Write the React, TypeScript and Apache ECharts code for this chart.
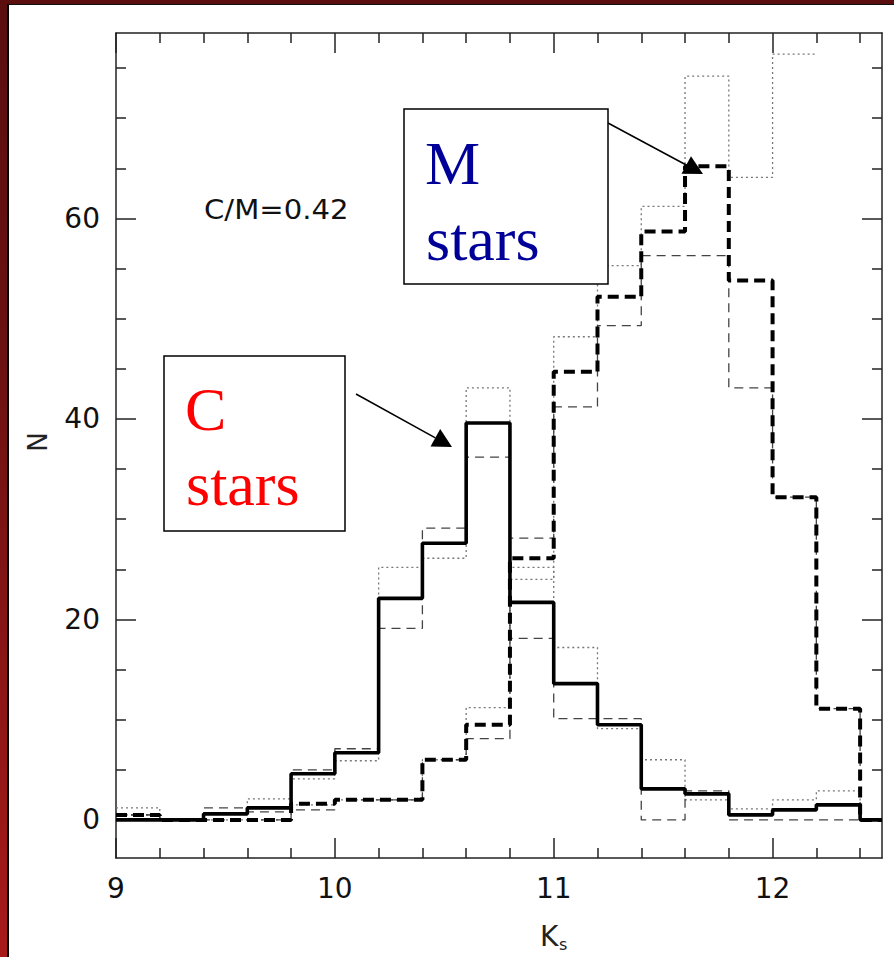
import React, { useEffect, useRef } from "react";
import * as echarts from "echarts";

// Histogram bin edges (K_s magnitude)
const binEdges = [9.0, 9.2, 9.4, 9.6, 9.8, 10.0, 10.2, 10.4, 10.6, 10.8, 11.0, 11.2, 11.4, 11.6, 11.8, 12.0, 12.2, 12.4, 12.5];
// Counts per bin
const cStars = [0, 0, 0.6, 1.2, 4.6, 6.7, 22.1, 27.6, 39.6, 21.7, 13.6, 9.5, 3.1, 2.6, 0.5, 1.0, 1.5, 0];
const mStars = [0.5, 0, 0, 0, 1.6, 2.0, 2.0, 6.0, 9.5, 26.1, 44.7, 52.2, 58.7, 65.2, 53.8, 32.2, 11.1, 0];
const cStarsDashed = [0.5, 0, 1.2, 0.8, 5.0, 7.1, 19.1, 29.1, 36.2, 18.1, 10.1, 10.1, 0, 2.9, 0, 0, 0, 0];
const cStarsDotted = [1.2, 0, 0.6, 2.1, 4.1, 5.9, 25.2, 26.1, 43.1, 25.2, 17.2, 9.1, 6.0, 2.0, 1.1, 2.0, 2.9, 0];
const mStarsDashed = [0.5, 0, 0, 0, 1.0, 2.0, 2.0, 6.0, 8.1, 28.1, 41.2, 49.3, 56.3, 56.3, 43.1, 32.2, 11.1, 0];
const mStarsDotted: (number | null)[] = [0.5, 0, 0, 0, 1.5, 2.0, 2.0, 6.0, 11.2, 24.0, 48.2, 55.3, 61.2, 74.2, 64.1, 76.4, null, null];

// Axes
const xMajorTicks = [9, 10, 11, 12];
const xMinorTicks = [9.2, 9.4, 9.6, 9.8, 10.2, 10.4, 10.6, 10.8, 11.2, 11.4, 11.6, 11.8, 12.2, 12.4];
const yMajorTicks = [0, 20, 40, 60];
const yMinorTicks = [5, 10, 15, 25, 30, 35, 45, 50, 55, 65, 70, 75];
const xRange = [9, 12.5];
const yRange = [-3.8, 78.5];

function stepData(values: (number | null)[]) {
  const pts: number[][] = [];
  let last = -1;
  values.forEach((v, i) => {
    if (v !== null && v !== undefined) {
      pts.push([binEdges[i], v]);
      last = i;
    }
  });
  if (last >= 0) pts.push([binEdges[last + 1], values[last] as number]);
  return pts;
}

function arrow(x1: number, y1: number, x2: number, y2: number, len: number, halfW: number) {
  const dx = x2 - x1;
  const dy = y2 - y1;
  const d = Math.sqrt(dx * dx + dy * dy);
  const ux = dx / d;
  const uy = dy / d;
  const bx = x2 - ux * len;
  const by = y2 - uy * len;
  return [
    { type: "line", shape: { x1, y1, x2: bx, y2: by }, style: { stroke: "#000", lineWidth: 1.5 }, z: 100 },
    {
      type: "polygon",
      shape: { points: [[x2, y2], [bx - uy * halfW, by + ux * halfW], [bx + uy * halfW, by - ux * halfW]] },
      style: { fill: "#000" },
      z: 100,
    },
  ];
}

const frameColor = "#222";
const tickFont = { fontFamily: "DejaVu Sans", fontSize: 28, color: "#111" };

function xAxisDef(position: string, ticks: number[], len: number, line: boolean, labels: boolean) {
  return {
    type: "value",
    min: xRange[0],
    max: xRange[1],
    position,
    axisLine: { show: line, onZero: false, lineStyle: { color: frameColor, width: 1.5 } },
    axisTick: { show: true, inside: true, length: len, customValues: ticks, lineStyle: { color: frameColor, width: 1.5 } },
    axisLabel: labels ? { show: true, customValues: xMajorTicks, margin: 16, ...tickFont } : { show: false },
    splitLine: { show: false },
  };
}

function yAxisDef(position: string, ticks: number[], len: number, line: boolean, labels: boolean) {
  return {
    type: "value",
    min: yRange[0],
    max: yRange[1],
    position,
    axisLine: { show: line, onZero: false, lineStyle: { color: frameColor, width: 1.5 } },
    axisTick: { show: true, inside: true, length: len, customValues: ticks, lineStyle: { color: frameColor, width: 1.5 } },
    axisLabel: labels ? { show: true, customValues: yMajorTicks, margin: 16, ...tickFont } : { show: false },
    splitLine: { show: false },
  };
}

export default function App() {
  const ref = useRef<HTMLDivElement>(null);
  useEffect(() => {
    if (!ref.current) return;
    const chart = echarts.init(ref.current, undefined, { renderer: "svg" });
    const series = [
      { name: "C dotted", values: cStarsDotted, color: "#777", width: 1.3, type: [2, 3] },
      { name: "M dotted", values: mStarsDotted, color: "#777", width: 1.3, type: [2, 3] },
      { name: "C dashed", values: cStarsDashed, color: "#444", width: 1.3, type: [9, 6] },
      { name: "M dashed", values: mStarsDashed, color: "#444", width: 1.3, type: [9, 6] },
      { name: "M stars", values: mStars, color: "#000", width: 4, type: [11, 6] },
      { name: "C stars", values: cStars, color: "#000", width: 3.6, type: "solid" },
    ].map((s, i) => ({
      name: s.name,
      type: "line",
      step: "end",
      symbol: "none",
      xAxisIndex: 0,
      yAxisIndex: 0,
      data: stepData(s.values),
      lineStyle: { color: s.color, width: s.width, type: s.type },
      z: 2 + i,
    }));

    const labelText = (x: number, y: number, text: string, color: string) => ({
      type: "text",
      x,
      y,
      z: 101,
      style: { text, fill: color, font: '62px "Liberation Serif"', verticalAlign: "middle", align: "left" },
    });

    chart.setOption({
      animation: false,
      grid: { left: 116, right: 12, top: 33, bottom: 99, containLabel: false },
      xAxis: [
        xAxisDef("bottom", xMajorTicks, 20, true, true),
        xAxisDef("bottom", xMinorTicks, 10, false, false),
        xAxisDef("top", xMajorTicks, 20, true, false),
        xAxisDef("top", xMinorTicks, 10, false, false),
      ],
      yAxis: [
        yAxisDef("left", yMajorTicks, 20, true, true),
        yAxisDef("left", yMinorTicks, 10, false, false),
        yAxisDef("right", yMajorTicks, 20, true, false),
        yAxisDef("right", yMinorTicks, 10, false, false),
      ],
      series,
      graphic: [
        {
          type: "text",
          x: 204,
          y: 210,
          scaleX: 1.12,
          z: 101,
          style: { text: "C/M=0.42", fill: "#111", font: '26px "DejaVu Sans"', verticalAlign: "middle" },
        },
        {
          type: "text",
          x: 38,
          y: 442,
          rotation: Math.PI / 2,
          z: 101,
          style: { text: "N", fill: "#222", font: '26px "DejaVu Sans"', align: "center", verticalAlign: "middle" },
        },
        {
          type: "text",
          x: 540,
          y: 922,
          z: 101,
          style: { text: "K", fill: "#222", font: '28px "DejaVu Sans"', align: "left", verticalAlign: "top" },
        },
        {
          type: "text",
          x: 559,
          y: 936,
          z: 101,
          style: { text: "s", fill: "#222", font: '16px "DejaVu Sans"', align: "left", verticalAlign: "top" },
        },
        {
          type: "rect",
          shape: { x: 164, y: 356, width: 181, height: 175 },
          style: { fill: "#fff", stroke: "#000", lineWidth: 1.5 },
          z: 100,
        },
        labelText(185, 409, "C", "#ff0000"),
        labelText(186, 484, "stars", "#ff0000"),
        {
          type: "rect",
          shape: { x: 404, y: 109, width: 204, height: 175 },
          style: { fill: "#fff", stroke: "#000", lineWidth: 1.5 },
          z: 100,
        },
        labelText(425, 163, "M", "#000099"),
        labelText(426, 239, "stars", "#000099"),
        ...arrow(356, 394, 452, 447, 19, 10),
        ...arrow(608, 123, 703, 174, 19, 10),
      ],
    });
    return () => chart.dispose();
  }, []);

  return (
    <div
      style={{
        position: "absolute",
        left: 0,
        top: 0,
        width: 894,
        height: 957,
        background: "linear-gradient(180deg, #5a0e0e 0%, #6a1111 35%, #a81a1a 100%)",
        overflow: "hidden",
      }}
    >
      <div
        style={{
          position: "absolute",
          left: 7,
          top: 4,
          right: 0,
          bottom: 0,
          background: "#fff",
          borderLeft: "2px solid #000",
          borderTop: "1px solid #111",
        }}
      />
      <div ref={ref} style={{ position: "absolute", left: 0, top: 0, width: 894, height: 957 }} />
    </div>
  );
}
